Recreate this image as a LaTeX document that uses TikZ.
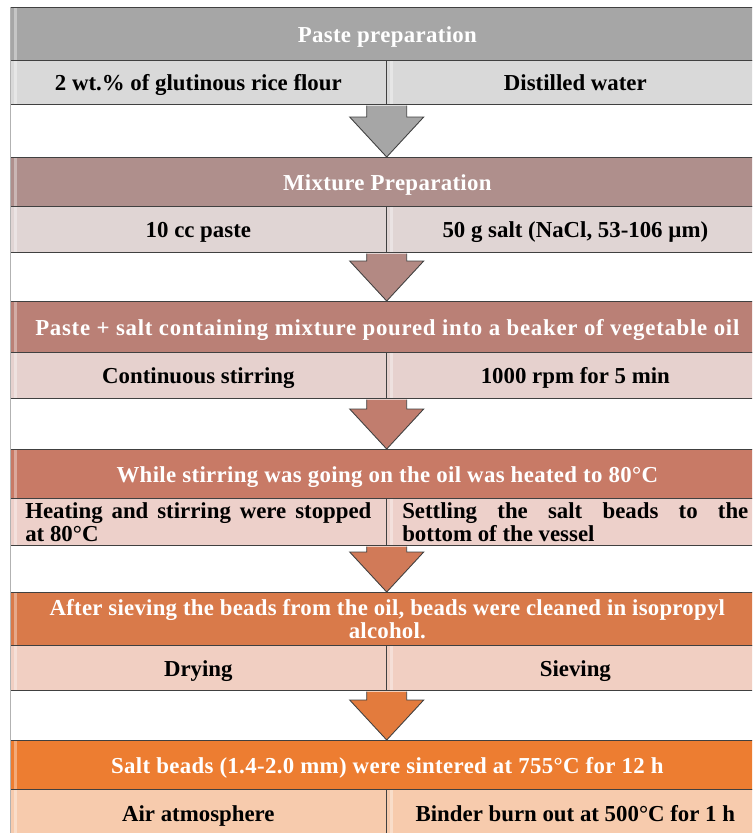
\documentclass[tikz,border=0pt]{standalone}
\usepackage{fontspec}
\setmainfont{Liberation Serif}
\usetikzlibrary{calc}

\newcommand{\pxl}{0.02cm}

\definecolor{hA}{HTML}{A6A6A6}
\definecolor{sA}{HTML}{D9D9D9}
\definecolor{hB}{HTML}{AF8F8C}
\definecolor{sB}{HTML}{E0D5D4}
\definecolor{hC}{HTML}{BA8076}
\definecolor{sC}{HTML}{E6D1CE}
\definecolor{hD}{HTML}{C87A66}
\definecolor{sD}{HTML}{EDD0CA}
\definecolor{hE}{HTML}{D97A4A}
\definecolor{sE}{HTML}{F1CFC2}
\definecolor{hF}{HTML}{ED7D31}
\definecolor{sF}{HTML}{F7CBAD}
\definecolor{edge}{HTML}{404040}

\tikzset{
  bevel/.style={path picture={
      \fill[white,opacity=.35] ([xshift=2pt]path picture bounding box.north west)
        rectangle ([xshift=4pt]path picture bounding box.south west);}},
  head/.style={draw=edge, fill=#1, text=white, bevel, anchor=north west,
    inner sep=0pt, minimum width=754*\pxl,
    font=\bfseries\fontsize{13}{13}\selectfont\addfontfeature{LetterSpace=1.5}},
  cell/.style={draw=edge, fill=#1, text=black, bevel, anchor=north west,
    inner sep=0pt, font=\bfseries\fontsize{13}{13}\selectfont},
  oneline/.style={text height=10pt, text depth=0.5pt},
  arrowbody/.style={draw=edge, line width=0.5pt, fill=#1},
}

\begin{document}
\begin{tikzpicture}[x=\pxl, y=-\pxl]
  \useasboundingbox (0,0) rectangle (752,833);
  \clip (0,0) rectangle (752,833);

  % Paste preparation
  \node[head=hA, oneline, minimum height=53*\pxl] (h1) at (10,7) {Paste preparation};
  \node[cell=sA, oneline, minimum width=376*\pxl, minimum height=44*\pxl] (l1) at (10,60) {2 wt.\% of glutinous rice flour};
  \node[cell=sA, oneline, minimum width=378*\pxl, minimum height=44*\pxl] (r1) at (386,60) {Distilled water};

  % Mixture preparation
  \node[head=hB, oneline, minimum height=49*\pxl] (h2) at (10,157) {Mixture Preparation};
  \node[cell=sB, oneline, minimum width=376*\pxl, minimum height=46*\pxl] (l2) at (10,206) {10 cc paste};
  \node[cell=sB, oneline, minimum width=378*\pxl, minimum height=46*\pxl] (r2) at (386,206) {50 g salt (NaCl, 53-106 µm)};

  % Oil bath
  \node[head=hC, oneline, minimum height=51*\pxl,
    font=\bfseries\fontsize{13}{13}\selectfont\addfontfeature{LetterSpace=3.2}] (h3) at (10,301)
    {Paste + salt containing mixture poured into a beaker of vegetable oil};
  \node[cell=sC, oneline, minimum width=376*\pxl, minimum height=46*\pxl] (l3) at (10,352) {Continuous stirring};
  \node[cell=sC, oneline, minimum width=378*\pxl, minimum height=46*\pxl] (r3) at (386,352) {1000 rpm for 5 min};

  % Heating
  \node[head=hD, oneline, minimum height=49*\pxl] (h4) at (10,449) {While stirring was going on the oil was heated to 80°C};
  \node[cell=sD, minimum width=376*\pxl, minimum height=47*\pxl, text width=197pt, align=justify]
    (l4) at (10,498) {Heating and stirring were stopped\linebreak at 80°C};
  \node[cell=sD, minimum width=378*\pxl, minimum height=47*\pxl, text width=197pt, align=justify]
    (r4) at (386,498) {Settling the salt beads to the\linebreak bottom of the vessel};

  % Cleaning
  \node[head=hE, minimum height=53*\pxl, align=center,
    font=\bfseries\fontsize{13}{11}\selectfont\addfontfeature{LetterSpace=1}] (h5) at (10,592)
    {After sieving the beads from the oil, beads were cleaned in isopropyl\\alcohol.};
  \node[cell=sE, oneline, minimum width=376*\pxl, minimum height=45*\pxl] (l5) at (10,645) {Drying};
  \node[cell=sE, oneline, minimum width=378*\pxl, minimum height=45*\pxl] (r5) at (386,645) {Sieving};

  % Sintering
  \node[head=hF, oneline, minimum height=49*\pxl] (h6) at (10,740) {Salt beads (1.4-2.0 mm) were sintered at 755°C for 12 h};
  \node[cell=sF, oneline, minimum width=376*\pxl, minimum height=48*\pxl] (l6) at (10,789) {Air atmosphere};
  \node[cell=sF, oneline, minimum width=378*\pxl, minimum height=48*\pxl] (r6) at (386,789) {Binder burn out at 500°C for 1 h};

  % left frame line
  \draw[black!30] (h1.north west) -- (h1.north west |- 0,833);

  % block arrows
  \foreach \i/\j/\c in {1/2/hA,2/3/hB!60!hC,3/4/hC!50!hD,4/5/hD!50!hE,5/6/hE!50!hF} {
    \draw[arrowbody=\c] ($(l\i.south east)+(-20,1)$)
      -- ($(l\i.south east |- h\j.north)+(-20,-40)$) -- ++(-17,0)
      -- (l\i.south east |- h\j.north) -- ++(37,-40) -- ++(-17,0)
      -- ($(l\i.south east)+(20,1)$);
  }
\end{tikzpicture}
\end{document}
